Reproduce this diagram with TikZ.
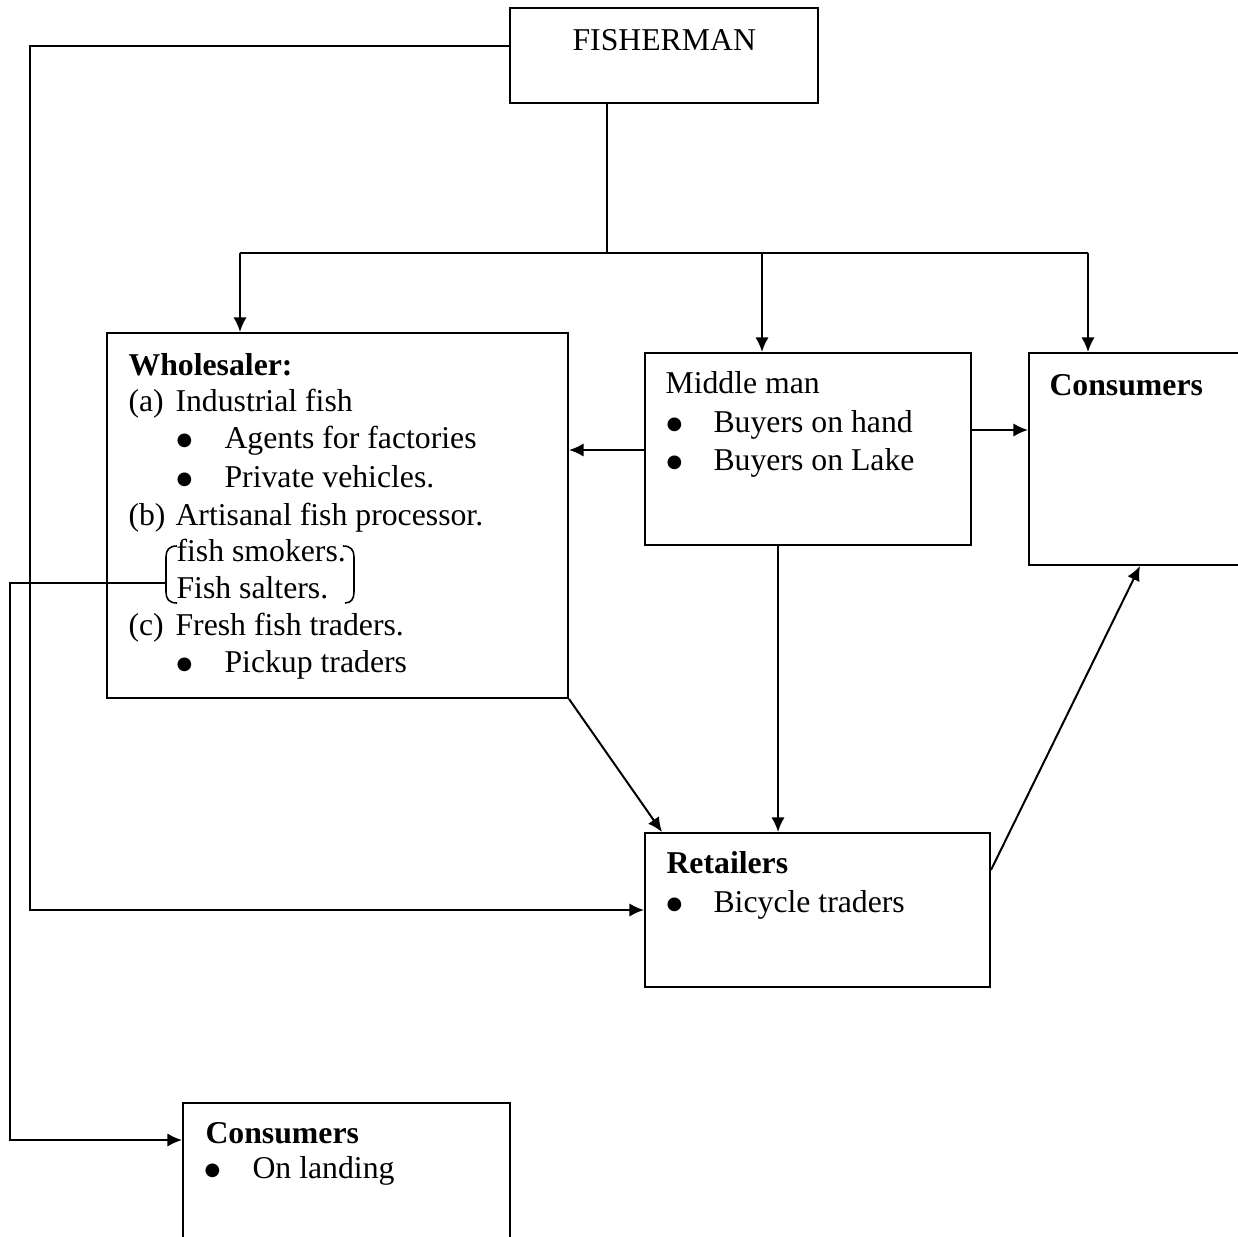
\documentclass[tikz,border=0pt]{standalone}
\usepackage{fontspec}
\setmainfont{Liberation Serif}
\newfontfamily\symfont{DejaVu Sans}
\usetikzlibrary{arrows.meta,fit}
% list bullet
\newcommand{\listbul}{\raisebox{0.8pt}{\symfont\fontsize{6.8}{7}\selectfont ●}}
\begin{document}
\begin{tikzpicture}[x=0.378pt,y=-0.378pt,
  box/.style={draw,line width=0.75pt,inner sep=0pt},
  arr/.style={line width=0.75pt,-{Latex[length=5.5pt,width=5pt]}},
  ln/.style={line width=0.75pt},
  txt/.style={anchor=base west,inner sep=0pt,font=\fontsize{12}{14}\selectfont},
  brk/.style={line width=0.6pt}]
\useasboundingbox (0,0) rectangle (1238,1236);
\clip (0,0) rectangle (1238,1236);

% boxes
\node[box,fit={(510,8) (818,103)}] (fish) {};
\node[box,fit={(107,333) (568,698)}] (whole) {};
\node[box,fit={(645,353) (971,545)}] (mid) {};
\node[box,fit={(1029,353) (1260,565)}] (cons) {};
\node[box,fit={(645,833) (990,987)}] (ret) {};
\node[box,fit={(183,1103) (510,1260)}] (cons2) {};

% texts
\node[txt] (tfish) at (572,50) {FISHERMAN};

\node[txt] (w1) at (128,375) {\textbf{Wholesaler:}};
\node[txt] (w2) at (128,411) {(a)};
\node[txt] (w2b) at (175,411) {Industrial fish};
\node[txt] (w3) at (176,448) {\listbul};
\node[txt] (w3b) at (224,448) {Agents for factories};
\node[txt] (w4) at (176,487) {\listbul};
\node[txt] (w4b) at (224,487) {Private vehicles.};
\node[txt] (w5) at (128,525) {(b)};
\node[txt] (w5b) at (175,525) {Artisanal fish processor.};
\node[txt] (w6) at (176,561) {fish smokers.};
\node[txt] (w7) at (176,598) {Fish salters.};
\node[txt] (w8) at (128,635) {(c)};
\node[txt] (w8b) at (175,635) {Fresh fish traders.};
\node[txt] (w9) at (176,672) {\listbul};
\node[txt] (w9b) at (224,672) {Pickup traders};

\node[txt] (m1) at (665,393) {Middle man};
\node[txt] (m2) at (666,432) {\listbul};
\node[txt] (m2b) at (713,432) {Buyers on hand};
\node[txt] (m3) at (666,470) {\listbul};
\node[txt] (m3b) at (713,470) {Buyers on Lake};

\node[txt] (c1) at (1049,395) {\textbf{Consumers}};

\node[txt] (r1) at (666,873) {\textbf{Retailers}};
\node[txt] (r2) at (666,912) {\listbul};
\node[txt] (r2b) at (713,912) {Bicycle traders};

\node[txt] (k1) at (205,1143) {\textbf{Consumers}};
\node[txt] (k2) at (204,1178) {\listbul};
\node[txt] (k2b) at (252,1178) {On landing};

% brackets around the processor list
\draw[brk] (177,546) .. controls (169,546) and (166,550) .. (166,557) -- (166,592) .. controls (166,599) and (169,603) .. (177,603);
\draw[brk] (343,546) .. controls (351,546) and (354,550) .. (354,557) -- (354,592) .. controls (354,599) and (351,603) .. (345,603);
\coordinate (brk) at (166,583);

% connectors
\coordinate (split) at (607,253);
\draw[ln] (607,0 |- fish.south) -- (split);
\draw[ln] (240,253) -- (1088,253);
\draw[arr] (240,253) -- (240,0 |- whole.north);
\draw[arr] (762,253) -- (762,0 |- mid.north);
\draw[arr] (1088,253) -- (1088,0 |- cons.north);

\draw[arr] (fish.west |- 0,46) -| (30,910) -- (ret.west |- 0,910);
\draw[arr] (mid.west |- 0,450) -- (whole.east |- 0,450);
\draw[arr] (mid.east |- 0,430) -- (cons.west |- 0,430);
\draw[arr] (778,0 |- mid.south) -- (778,0 |- ret.north);
\draw[arr] (whole.south east) -- (662,0 |- ret.north);
\draw[arr] (ret.east |- 0,870) -- (1140,0 |- cons.south);
\draw[arr] (brk) -- (10,583) |- (cons2.west |- 0,1140);
\end{tikzpicture}
\end{document}
